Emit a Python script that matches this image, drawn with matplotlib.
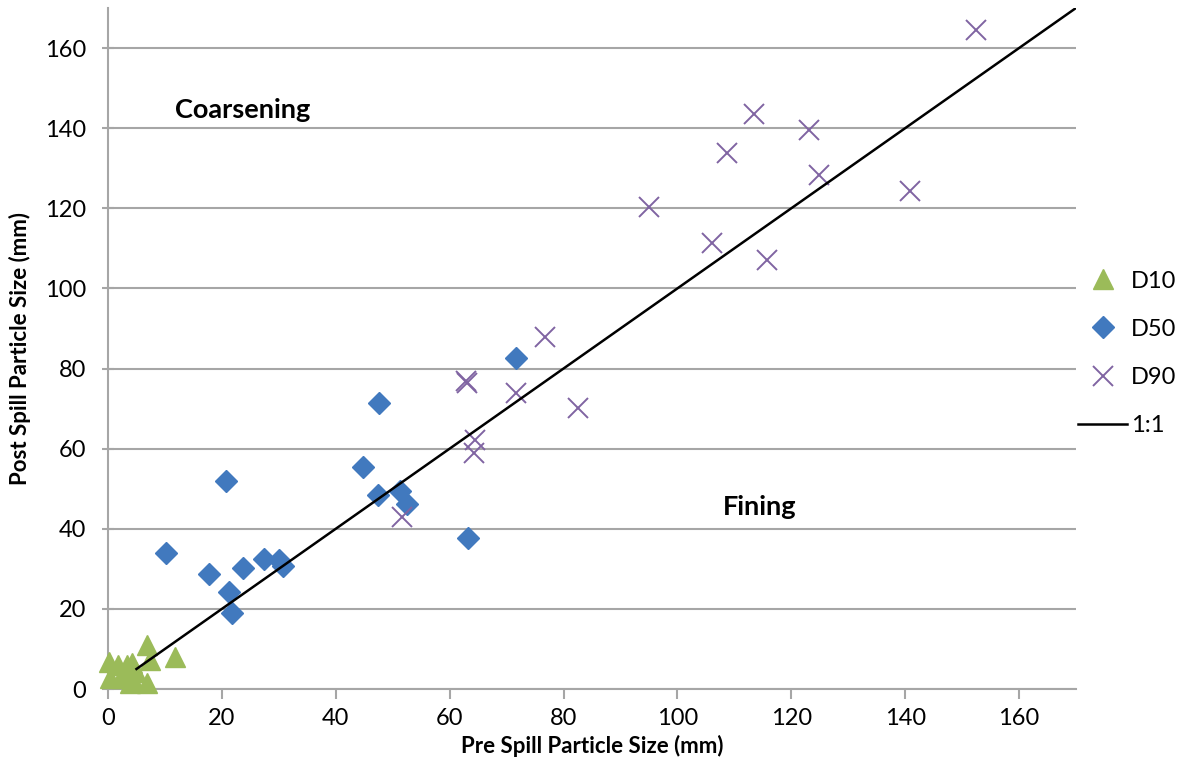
import matplotlib.pyplot as plt

# particle sizes (mm): pre spill vs post spill
d10_pre = [6.8, 7.4, 11.8, 0.1, 1.8, 3.3, 4.2, 0.4, 2.4, 4.2, 3.9, 6.8, 5.0, 2.7]
d10_post = [11.0, 7.2, 8.1, 6.8, 6.0, 6.0, 6.5, 2.7, 2.7, 2.7, 1.5, 1.5, 4.3, 4.0]

d50_pre = [10.2, 20.7, 17.8, 21.3, 21.8, 23.7, 27.4, 30.1, 30.8, 47.6, 44.8,
           47.5, 51.3, 52.6, 63.3, 71.7]
d50_post = [33.9, 51.9, 28.7, 24.2, 19.0, 30.2, 32.5, 32.2, 30.7, 71.4, 55.4,
            48.4, 49.4, 46.2, 37.7, 82.6]

d90_pre = [152.4, 113.4, 108.8, 123.1, 124.8, 140.8, 95.1, 106.0, 115.7, 76.7,
           62.9, 63.1, 71.6, 82.6, 64.5, 64.2, 51.7]
d90_post = [164.5, 143.5, 133.8, 139.5, 128.3, 124.3, 120.3, 111.3, 107.1, 87.9,
            76.8, 76.3, 73.9, 70.1, 62.2, 58.9, 42.9]

one_to_one = [5, 170]

plt.rcParams['font.family'] = ['Lato', 'DejaVu Sans']

fig = plt.figure(figsize=(11.88, 7.69), dpi=100)
ax = fig.add_axes([0.0909, 0.104, 0.8148, 0.8856])

ax.plot(d10_pre, d10_post, linestyle='none', marker='^', markersize=14,
        color='#9BBB59', label='D10', zorder=3, clip_on=False)
ax.plot(d50_pre, d50_post, linestyle='none', marker='D', markersize=11.5,
        color='#4179BE', label='D50', zorder=3)
ax.plot(d90_pre, d90_post, linestyle='none', marker='x', markersize=14,
        markeredgewidth=1.4, color='#8064A2', label='D90', zorder=3)
ax.plot(one_to_one, one_to_one, color='black', linewidth=1.8, label='1:1', zorder=4)

ax.set_xlim(0, 170)
ax.set_ylim(0, 170)
ax.set_xticks(range(0, 161, 20))
ax.set_yticks(range(0, 161, 20))
ax.yaxis.grid(True, color='#a6a6a6', linewidth=1.5)
ax.set_axisbelow(True)

for side in ['top', 'right']:
    ax.spines[side].set_visible(False)
for side in ['left', 'bottom']:
    ax.spines[side].set_color('#a6a6a6')
    ax.spines[side].set_linewidth(1.5)
ax.tick_params(axis='x', direction='out', length=7, width=1.5, color='#a6a6a6',
               labelsize=17, pad=7)
ax.tick_params(axis='y', direction='inout', length=8, width=1.5, color='#a6a6a6',
               labelsize=17, pad=12)

ax.set_xlabel('Pre Spill Particle Size (mm)', fontsize=16, fontweight='bold', labelpad=4)
ax.set_ylabel('Post Spill Particle Size (mm)', fontsize=16, fontweight='bold', labelpad=10)

ax.text(23.6, 144.6, 'Coarsening', fontsize=19.5, fontweight='bold', ha='center', va='center')
ax.text(114.5, 45.4, 'Fining', fontsize=19.5, fontweight='bold', ha='center', va='center')

ax.legend(loc='center left', bbox_to_anchor=(1.002, 0.493), frameon=False, fontsize=17,
          handlelength=2.1, labelspacing=1.15, handletextpad=0.15, borderpad=0,
          borderaxespad=0)

fig.savefig('out.png', dpi=100)
